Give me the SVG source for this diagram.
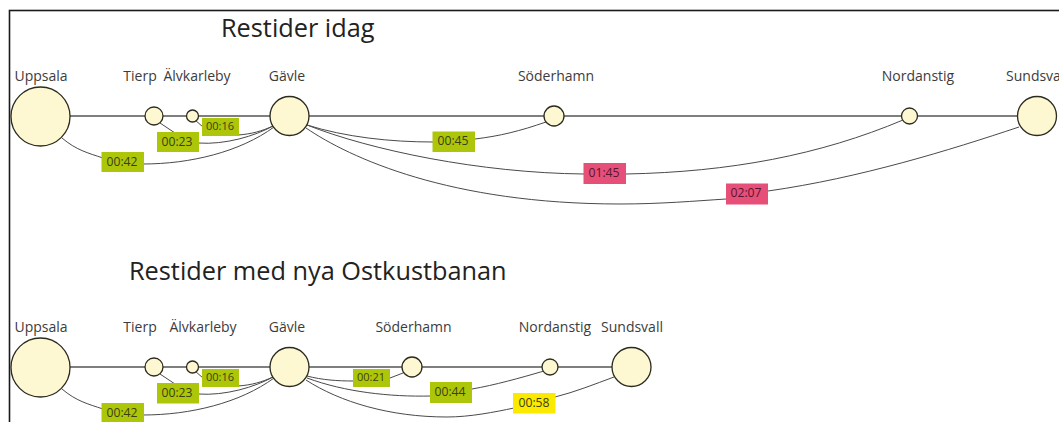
<svg xmlns="http://www.w3.org/2000/svg" width="1059" height="422" viewBox="0 0 1059 422">
<style>
text{font-family:"Open Sans","Noto Sans","Liberation Sans",sans-serif;fill:#333}
.n circle{fill:#fdf8d2;stroke:#2b2b1f;stroke-width:1.3}
.name{font-size:14px;text-anchor:middle;fill:#3c3c3c}
.title{font-size:25.3px;fill:#222}
.main{fill:none;stroke:#555;stroke-width:1.6}
.c{fill:none;stroke:#4a4a4a;stroke-width:1}
.t text{font-size:12.2px;text-anchor:middle;fill:#3a3f10}
.t text.s{font-size:11px}
.g{fill:#aec60a}.r{fill:#e64f78}.y{fill:#fbe900}
.t .rt{fill:#5a1530}
</style>
<rect id="frame" x="9.5" y="10.5" width="1060" height="430" fill="#fff" stroke="#1a1a1a" stroke-width="1.6"/>
<text class="title" x="221" y="36.5">Restider idag</text>
<text class="title" x="129" y="280">Restider med nya Ostkustbanan</text>
<g id="connectors">
<path class="main" d="M70 116H1020"/>
<path class="c" d="M160 123L175 133"/>
<path class="c" d="M195 120L203 127"/>
<path class="c" d="M62 138C76 150 88 153 103 158"/>
<path class="c" d="M143 164C190 164 240 152 274 127"/>
<path class="c" d="M198 143C225 145 255 136 273 126"/>
<path class="c" d="M238 135C252 134 262 131 273 126"/>
<path class="c" d="M307 125C345 137 390 142 433 142"/>
<path class="c" d="M475 139C500 136 520 131 546 122"/>
<path class="c" d="M307 125C370 150 480 173 584 174"/>
<path class="c" d="M626 174C730 172 820 155 903 120"/>
<path class="c" d="M306 128C350 158 450 204 620 204C660 204 695 201 726 199"/>
<path class="c" d="M768 191C860 178 950 150 1019 127"/>
<path class="main" d="M70 367H612"/>
<path class="c" d="M160 374L175 384"/>
<path class="c" d="M195 371L203 378"/>
<path class="c" d="M62 389C76 401 88 404 103 409"/>
<path class="c" d="M143 415C190 415 240 403 274 378"/>
<path class="c" d="M198 394C225 396 255 387 273 377"/>
<path class="c" d="M238 386C252 385 262 382 273 377"/>
<path class="c" d="M307 376C322 380 338 381 353 381"/>
<path class="c" d="M390 378L403 373"/>
<path class="c" d="M307 378C345 392 390 397 431 396"/>
<path class="c" d="M472 389C495 385 520 378 544 371"/>
<path class="c" d="M306 380C340 402 390 417 447 417C470 417 495 412 514 408"/>
<path class="c" d="M555 397C575 392 595 384 614 377"/>
</g>
<g id="uppsala1" class="n"><circle cx="40.5" cy="116.5" r="29.5"/><text class="name" x="41" y="81">Uppsala</text></g>
<g id="tierp1" class="n"><circle cx="154" cy="116" r="9"/><text class="name" x="140" y="81">Tierp</text></g>
<g id="alvkarleby1" class="n"><circle cx="192.5" cy="116" r="6"/><text class="name" x="197" y="81">Älvkarleby</text></g>
<g id="gavle1" class="n"><circle cx="289.5" cy="116" r="19.5"/><text class="name" x="287" y="81">Gävle</text></g>
<g id="soderhamn1" class="n"><circle cx="554" cy="116" r="10"/><text class="name" x="556" y="81">Söderhamn</text></g>
<g id="nordanstig1" class="n"><circle cx="909.5" cy="116" r="8"/><text class="name" x="918" y="81">Nordanstig</text></g>
<g id="sundsvall1" class="n"><circle cx="1037" cy="116" r="19.5"/><text class="name" x="1037" y="81">Sundsvall</text></g>
<g id="uppsala2" class="n"><circle cx="40.5" cy="367.5" r="29.5"/><text class="name" x="41" y="332">Uppsala</text></g>
<g id="tierp2" class="n"><circle cx="154" cy="367" r="9"/><text class="name" x="140" y="332">Tierp</text></g>
<g id="alvkarleby2" class="n"><circle cx="192.5" cy="367" r="6"/><text class="name" x="203" y="332">Älvkarleby</text></g>
<g id="gavle2" class="n"><circle cx="289.5" cy="367" r="19.5"/><text class="name" x="287" y="332">Gävle</text></g>
<g id="soderhamn2" class="n"><circle cx="412" cy="367" r="10"/><text class="name" x="413.5" y="332">Söderhamn</text></g>
<g id="nordanstig2" class="n"><circle cx="550" cy="367" r="8"/><text class="name" x="555" y="332">Nordanstig</text></g>
<g id="sundsvall2" class="n"><circle cx="631.5" cy="367" r="19.5"/><text class="name" x="632" y="332">Sundsvall</text></g>
<g id="times" class="t">
<rect class="g" x="101.5" y="152" width="42.5" height="20"/><text x="122" y="165.5">00:42</text>
<rect class="g" x="157" y="132" width="42" height="20"/><text x="177" y="145.5">00:23</text>
<rect class="g" x="202" y="118" width="37" height="18"/><text class="s" x="220" y="130">00:16</text>
<rect class="g" x="432.5" y="131.5" width="42.5" height="20.5"/><text x="453" y="145">00:45</text>
<rect class="r" x="583.5" y="163" width="42.5" height="21"/><text class="rt" x="604" y="177">01:45</text>
<rect class="r" x="726" y="183.5" width="42" height="21"/><text class="rt" x="746" y="197">02:07</text>
<rect class="g" x="101.5" y="403" width="42.5" height="20"/><text x="122" y="416.5">00:42</text>
<rect class="g" x="157" y="383" width="42" height="20.5"/><text x="177" y="396.5">00:23</text>
<rect class="g" x="202" y="369" width="37" height="18"/><text class="s" x="220" y="381">00:16</text>
<rect class="g" x="353" y="369" width="37" height="18"/><text class="s" x="371" y="381">00:21</text>
<rect class="g" x="430" y="382" width="42" height="21"/><text x="450" y="395.5">00:44</text>
<rect class="y" x="513" y="393" width="42.5" height="20.5"/><text x="534" y="406.5">00:58</text>
</g>
</svg>
